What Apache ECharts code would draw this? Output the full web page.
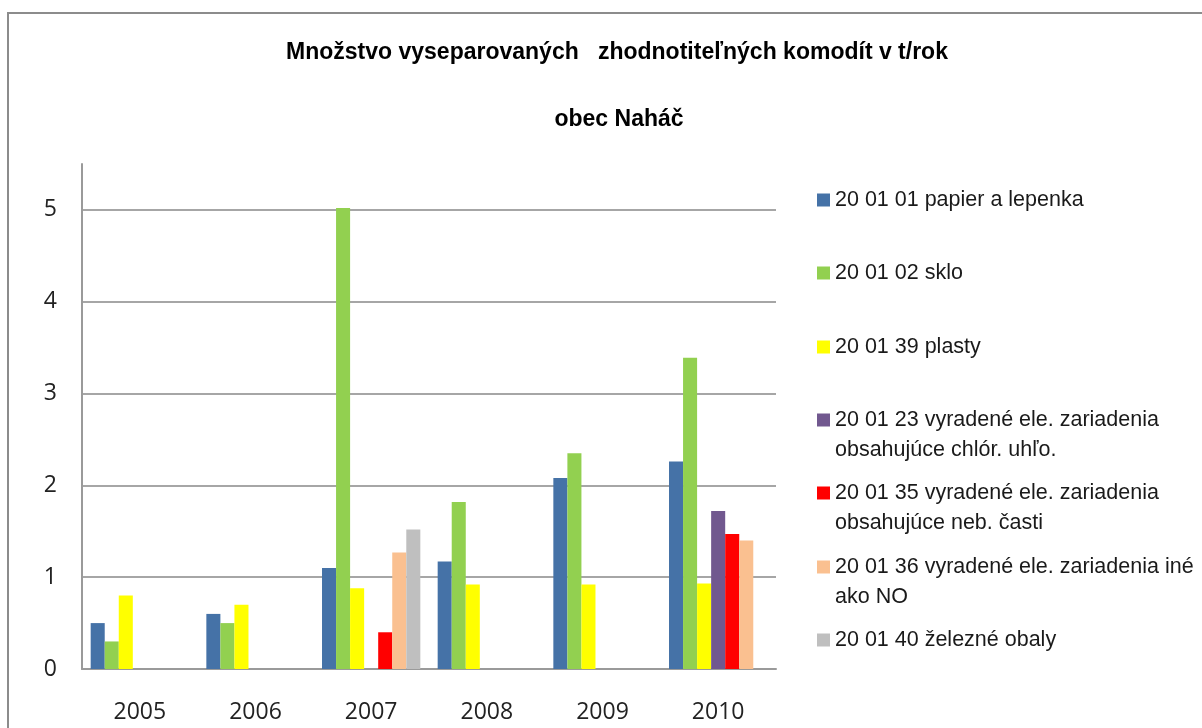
<!DOCTYPE html>
<html>
<head>
<meta charset="utf-8">
<script src="https://cdn.jsdelivr.net/npm/echarts@6/dist/echarts.min.js"></script>
<style>
html,body{margin:0;padding:0;background:#fff;overflow:hidden;}
#frame{position:absolute;left:7px;top:12px;width:1210px;height:730px;border-left:2px solid #8c8c8c;border-top:2px solid #8c8c8c;box-sizing:border-box;}
#chart{position:absolute;left:0;top:0;width:1202px;height:728px;}
</style>
</head>
<body>
<div id="frame"></div>
<div id="chart"></div>
<script>
const titleLine1 = 'Množstvo vyseparovaných   zhodnotiteľných komodít v t/rok';
const titleLine2 = 'obec Naháč';
const years = ['2005', '2006', '2007', '2008', '2009', '2010'];
const seriesNames = [
  '20 01 01 papier a lepenka',
  '20 01 02 sklo',
  '20 01 39 plasty',
  '20 01 23 vyradené ele. zariadenia\nobsahujúce chlór. uhľo.',
  '20 01 35 vyradené ele. zariadenia\nobsahujúce neb. časti',
  '20 01 36 vyradené ele. zariadenia iné\nako NO',
  '20 01 40 železné obaly'
];
const papier = [0.5, 0.6, 1.1, 1.17, 2.08, 2.26];
const sklo = [0.3, 0.5, 5.02, 1.82, 2.35, 3.39];
const plasty = [0.8, 0.7, 0.88, 0.92, 0.92, 0.93];
const ele23 = [null, null, null, null, null, 1.72];
const ele35 = [null, null, 0.4, null, null, 1.47];
const ele36 = [null, null, 1.27, null, null, 1.4];
const obaly = [null, null, 1.52, null, null, null];
const yTicks = [0, 1, 2, 3, 4, 5];

const seriesValues = [papier, sklo, plasty, ele23, ele35, ele36, obaly];
const colors = ['#4572A7', '#92D050', '#FFFF00', '#71588F', '#FF0000', '#FAC090', '#BFBFBF'];
const legendCenters = [200, 273, 347, 420, 493, 567, 640];

const textFont = "'Liberation Sans Narrow', 'Arial Narrow', 'Liberation Sans', Arial, sans-serif";

const chart = echarts.init(document.getElementById('chart'), null, {renderer: 'canvas'});

const legends = seriesNames.map((name, i) => {
  const twoLine = name.indexOf('\n') >= 0;
  return {
    left: 817,
    top: legendCenters[i] - (twoLine ? 45 : 15),
    padding: 0,
    orient: 'vertical',
    itemWidth: 13,
    itemHeight: 13,
    icon: 'rect',
    selectedMode: false,
    formatter: twoLine ? (n => '\n' + n) : (n => n),
    textStyle: {
      fontFamily: textFont,
      fontSize: 21.5,
      color: '#1a1a1a',
      lineHeight: 30
    },
    data: [name]
  };
});

const option = {
  animation: false,
  backgroundColor: 'transparent',
  color: colors,
  title: [
    {text: titleLine1, left: 612, top: 36, textAlign: 'center',
     textStyle: {fontFamily: textFont, fontWeight: 'bold', fontSize: 23, color: '#000'}},
    {text: titleLine2, left: 614, top: 103, textAlign: 'center',
     textStyle: {fontFamily: textFont, fontWeight: 'bold', fontSize: 23, color: '#000'}}
  ],
  legend: legends,
  grid: {left: 82, right: 426, top: 164, bottom: 59, containLabel: false},
  xAxis: {
    type: 'category',
    data: years,
    axisLine: {show: true, lineStyle: {color: '#9a9a9a', width: 2}},
    axisTick: {show: false},
    axisLabel: {fontFamily: "'Open Sans', sans-serif", fontSize: 23, color: '#222', margin: 32}
  },
  yAxis: {
    type: 'value',
    min: 0,
    max: 5.5,
    interval: 1,
    axisLine: {show: true, lineStyle: {color: '#9a9a9a', width: 2}},
    axisTick: {show: false},
    axisLabel: {
      fontFamily: "'Open Sans', sans-serif", fontSize: 23, color: '#222', margin: 25,
      showMaxLabel: false,
      formatter: v => (yTicks.indexOf(v) >= 0 ? String(v) : '')
    },
    splitLine: {show: true, lineStyle: {color: ['#a6a6a6', '#a6a6a6', '#a6a6a6', '#a6a6a6', '#a6a6a6', '#a6a6a6', 'rgba(0,0,0,0)'], width: 2}}
  },
  series: seriesNames.map((name, i) => ({
    name: name,
    type: 'bar',
    data: seriesValues[i],
    barGap: '0%',
    barCategoryGap: '15%',
    itemStyle: {color: colors[i]}
  }))
};
chart.setOption(option);
</script>
</body>
</html>
